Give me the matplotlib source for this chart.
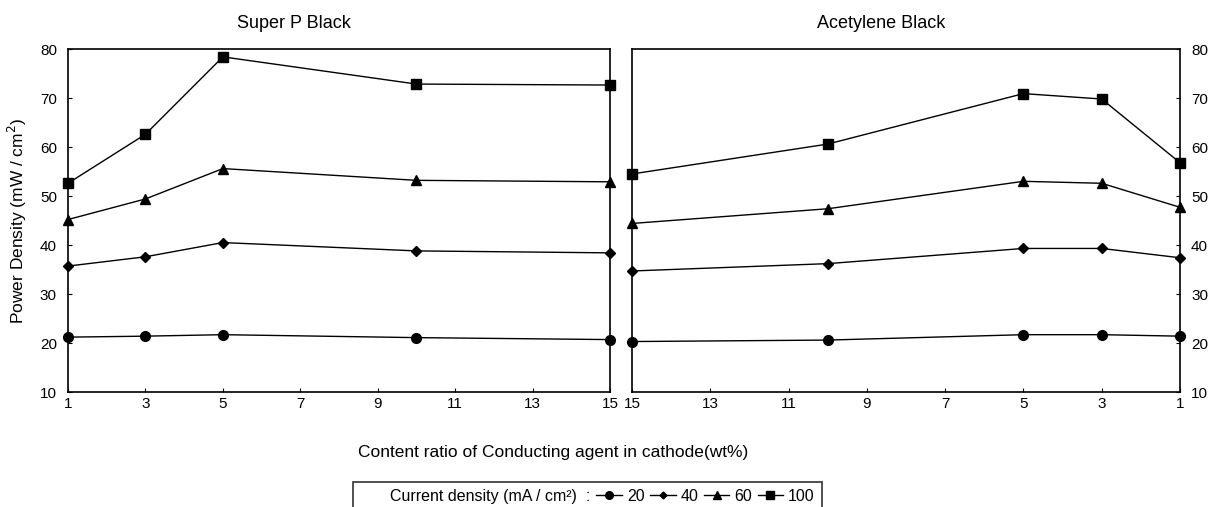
import matplotlib.pyplot as plt
from matplotlib.lines import Line2D

plt.rcParams['font.family'] = ['Liberation Sans', 'DejaVu Sans']

# Datos
x_superp = [1, 3, 5, 10, 15]
superp_20 = [21.2, 21.4, 21.7, 21.1, 20.7]
superp_40 = [35.7, 37.6, 40.5, 38.8, 38.4]
superp_60 = [45.2, 49.4, 55.6, 53.2, 52.9]
superp_100 = [52.6, 62.6, 78.4, 72.85, 72.65]

x_acet = [15, 10, 5, 3, 1]
acet_20 = [20.3, 20.6, 21.7, 21.7, 21.4]
acet_40 = [34.7, 36.2, 39.3, 39.3, 37.4]
acet_60 = [44.4, 47.4, 53.0, 52.6, 47.7]
acet_100 = [54.5, 60.6, 70.9, 69.8, 56.8]

xticks = [1, 3, 5, 7, 9, 11, 13, 15]
yticks = [10, 20, 30, 40, 50, 60, 70, 80]
densities = ['20', '40', '60', '100']
markers = ['o', 'D', '^', 's']
msizes = [7, 5, 7, 7]

fig = plt.figure(figsize=(12.21, 5.07), dpi=100)
ax1 = fig.add_axes([0.0557, 0.2268, 0.4439, 0.6765])
ax2 = fig.add_axes([0.5176, 0.2268, 0.4488, 0.6765])

for ys, m, ms in zip([superp_20, superp_40, superp_60, superp_100], markers, msizes):
    ax1.plot(x_superp, ys, color='black', linewidth=1.0, marker=m, markersize=ms, clip_on=False)
for ys, m, ms in zip([acet_20, acet_40, acet_60, acet_100], markers, msizes):
    ax2.plot(x_acet, ys, color='black', linewidth=1.0, marker=m, markersize=ms, clip_on=False)

for ax in (ax1, ax2):
    ax.set_xlim(1, 15)
    ax.set_ylim(10, 80)
    ax.set_xticks(xticks)
    ax.set_yticks(yticks)
    ax.tick_params(direction='in', labelsize=11, length=3)
    ax.tick_params(axis='y', pad=8)
    for s in ax.spines.values():
        s.set_linewidth(1.2)

ax2.set_xlim(15, 1)
ax2.yaxis.tick_right()

ax1.set_title('Super P Black', fontsize=13, x=0.417, pad=15)
ax2.set_title('Acetylene Black', fontsize=13, x=0.454, pad=15)
ax1.set_ylabel('Power Density (mW / cm$^2$)', fontsize=12.5)
ax1.yaxis.set_label_coords(-0.072, 0.5)
fig.text(0.453, 0.108, 'Content ratio of Conducting agent in cathode(wt%)',
         ha='center', va='center', fontsize=12.5)

handles = [Line2D([], [], linestyle='none')]
labels = ['Current density (mA / cm²)  :']
for m, ms, d in zip(markers, msizes, densities):
    handles.append(Line2D([], [], color='black', marker=m, markersize=ms - 1.5, linewidth=1.0))
    labels.append(d)
leg = fig.legend(handles, labels, ncol=5, loc='upper center', bbox_to_anchor=(0.481, 0.05),
                 frameon=True, fancybox=False, edgecolor='black', fontsize=11.5,
                 handlelength=1.6, handletextpad=0.3, columnspacing=0.35,
                 borderpad=0.45, borderaxespad=0)
leg.get_frame().set_linewidth(1.2)

fig.savefig('out.png', dpi=100)
